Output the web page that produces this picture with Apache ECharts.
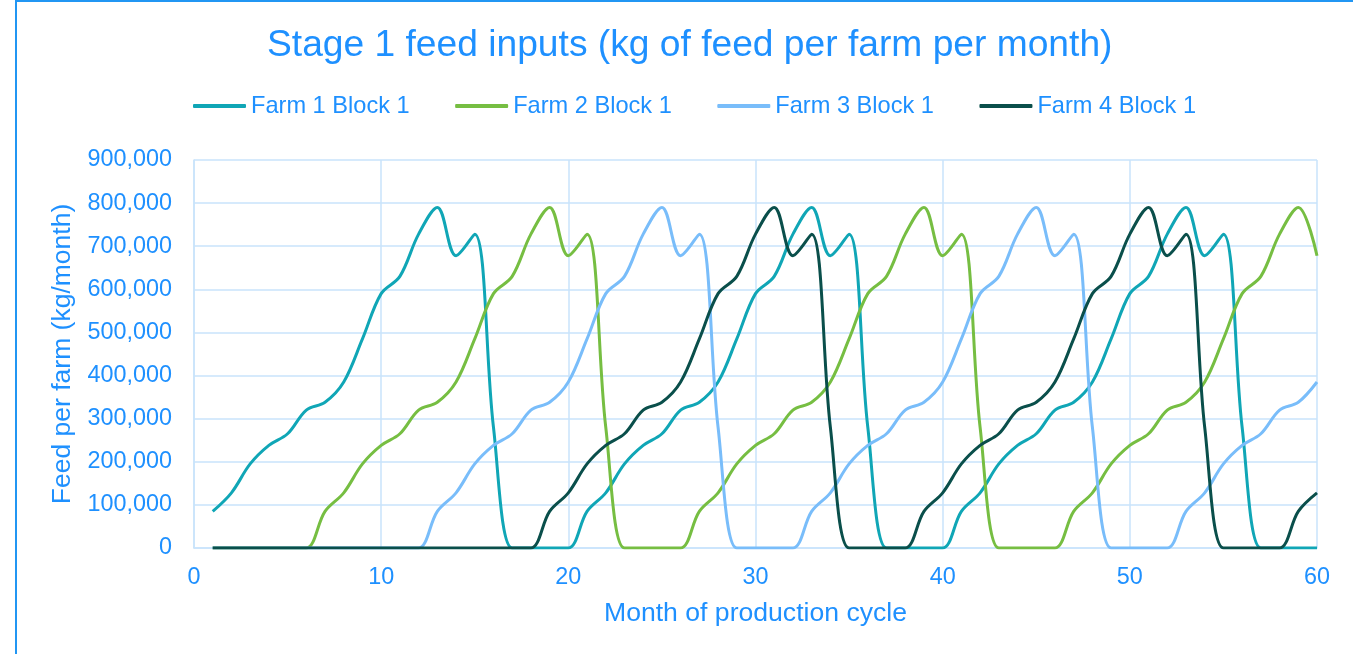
<!DOCTYPE html>
<html>
<head>
<meta charset="utf-8">
<script src="https://cdn.jsdelivr.net/npm/echarts@6/dist/echarts.min.js"></script>
<style>
html,body{margin:0;padding:0;background:#fff;}
#chart{width:1353px;height:654px;}
</style>
</head>
<body>
<div id="chart"></div>
<script>
const months = [1,2,3,4,5,6,7,8,9,10,11,12,13,14,15,16,17,18,19,20,
  21,22,23,24,25,26,27,28,29,30,31,32,33,34,35,36,37,38,39,40,
  41,42,43,44,45,46,47,48,49,50,51,52,53,54,55,56,57,58,59,60];

const farm1 = [
  85000,128000,195000,238000,265000,320000,338000,385000,485000,590000,630000,728000,790000,678000,728000,280000,0,0,0,0,
  85000,128000,195000,238000,265000,320000,338000,385000,485000,590000,630000,728000,790000,678000,728000,280000,0,0,0,0,
  85000,128000,195000,238000,265000,320000,338000,385000,485000,590000,630000,728000,790000,678000,728000,280000,0,0,0,0
];
const farm2 = [
  0,0,0,0,0,0,
  85000,128000,195000,238000,265000,320000,338000,385000,485000,590000,630000,728000,790000,678000,728000,280000,0,0,0,0,
  85000,128000,195000,238000,265000,320000,338000,385000,485000,590000,630000,728000,790000,678000,728000,280000,0,0,0,0,
  85000,128000,195000,238000,265000,320000,338000,385000,485000,590000,630000,728000,790000,678000
];
const farm3 = [
  0,0,0,0,0,0,0,0,0,0,0,0,
  85000,128000,195000,238000,265000,320000,338000,385000,485000,590000,630000,728000,790000,678000,728000,280000,0,0,0,0,
  85000,128000,195000,238000,265000,320000,338000,385000,485000,590000,630000,728000,790000,678000,728000,280000,0,0,0,0,
  85000,128000,195000,238000,265000,320000,338000,385000
];
const farm4 = [
  0,0,0,0,0,0,0,0,0,0,0,0,0,0,0,0,0,0,
  85000,128000,195000,238000,265000,320000,338000,385000,485000,590000,630000,728000,790000,678000,728000,280000,0,0,0,0,
  85000,128000,195000,238000,265000,320000,338000,385000,485000,590000,630000,728000,790000,678000,728000,280000,0,0,0,0,
  85000,128000
];
const seriesNames = ['Farm 1 Block 1','Farm 2 Block 1','Farm 3 Block 1','Farm 4 Block 1'];
const seriesColors = ['#10A6B6','#76BE42','#79BDFA','#0A4F4B'];
const titleText = 'Stage 1 feed inputs (kg of feed per farm per month)';
const xName = 'Month of production cycle';
const yName = 'Feed per farm (kg/month)';

const textBlue = '#1E90FF';
const gridBlue = '#C9E3FB';
const font = 'Liberation Sans, Arial, sans-serif';

const allData = [farm1, farm2, farm3, farm4];
const chart = echarts.init(document.getElementById('chart'), null, {renderer:'canvas'});
chart.setOption({
  animation:false,
  backgroundColor:'#fff',
  title:{
    text:titleText, left:267, top:27, padding:0,
    textStyle:{color:textBlue, fontSize:37.2, fontWeight:'normal', fontFamily:font}
  },
  legend:{
    left:193, top:94, padding:0, itemGap:45.5, itemWidth:53, itemHeight:4,
    icon:'roundRect',
    textStyle:{color:textBlue, fontSize:23.6, fontFamily:font},
    data:seriesNames
  },
  grid:{left:194, right:36, top:160, bottom:106, containLabel:false},
  xAxis:{
    type:'value', min:0, max:60, interval:10,
    name:xName, nameLocation:'middle', nameGap:52,
    nameTextStyle:{color:textBlue, fontSize:26.6, fontFamily:font},
    axisLine:{show:true, lineStyle:{color:gridBlue, width:1.5}},
    axisTick:{show:false},
    axisLabel:{color:textBlue, fontSize:23.4, fontFamily:font, margin:18},
    splitLine:{show:true, lineStyle:{color:gridBlue, width:1.5}}
  },
  yAxis:{
    type:'value', min:0, max:900000, interval:100000,
    name:yName, nameLocation:'middle', nameGap:113,
    nameTextStyle:{color:textBlue, fontSize:26.5, fontFamily:font},
    axisLine:{show:true, lineStyle:{color:gridBlue, width:1.5}},
    axisTick:{show:false},
    axisLabel:{color:textBlue, fontSize:23.4, fontFamily:font, margin:22,
      formatter:v=>v.toLocaleString('en-US')},
    splitLine:{show:true, lineStyle:{color:gridBlue, width:1.5}}
  },
  graphic:[{
    type:'rect', silent:true, z:-1,
    shape:{x:16, y:1, width:1400, height:700},
    style:{fill:'none', stroke:'#2196F3', lineWidth:2}
  }],
  series: allData.map((d,i)=>({
    name:seriesNames[i], type:'line', smooth:0.35, symbol:'none',
    data: months.map((m,j)=>[m, d[j]]),
    lineStyle:{color:seriesColors[i], width:3},
    itemStyle:{color:seriesColors[i]}
  }))
});
</script>
</body>
</html>
